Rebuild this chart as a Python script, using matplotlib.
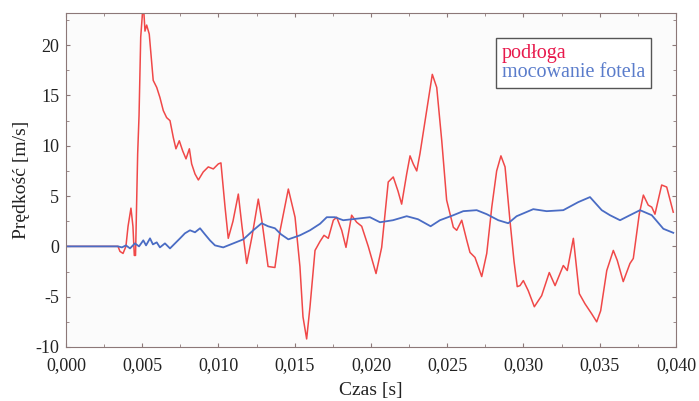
import matplotlib
matplotlib.use('Agg')
import matplotlib.pyplot as plt
from matplotlib.ticker import MultipleLocator, FuncFormatter
import numpy as np

plt.rcParams['font.family'] = ['Liberation Serif', 'DejaVu Serif']

# czas w ms
t_podloga = [0, 3.41, 3.54, 3.74, 3.93, 4.07, 4.26, 4.39, 4.48, 4.56, 4.70, 4.79, 4.90,
             5.03, 5.11, 5.18, 5.29, 5.46, 5.72, 5.95, 6.16, 6.38, 6.60, 6.82, 7.04,
             7.21, 7.43, 7.65, 7.87, 8.09, 8.24, 8.46, 8.68, 9.00, 9.33, 9.66, 9.99,
             10.16, 10.43, 10.64, 10.95, 11.30, 11.54, 11.85, 12.20, 12.61, 12.85,
             13.25, 13.70, 14.03, 14.58, 15.02, 15.34, 15.54, 15.78, 16.00, 16.33,
             16.66, 16.92, 17.20, 17.53, 17.75, 18.08, 18.36, 18.73, 19.06, 19.39,
             19.82, 20.33, 20.70, 21.13, 21.46, 21.77, 22.01, 22.34, 22.56, 22.77,
             23.00, 23.21, 23.65, 24.02, 24.31, 24.64, 24.96, 25.40, 25.62, 25.95,
             26.28, 26.49, 26.82, 27.26, 27.59, 27.92, 28.24, 28.52, 28.79, 29.11,
             29.38, 29.59, 29.77, 29.99, 30.31, 30.71, 31.19, 31.69, 32.07, 32.61,
             32.87, 33.27, 33.66, 34.03, 34.47, 34.80, 35.06, 35.46, 35.89, 36.15,
             36.54, 36.98, 37.20, 37.59, 37.86, 38.18, 38.41, 38.62, 39.06, 39.39,
             39.61, 39.82]
v_podloga = [0, 0, -0.5, -0.7, 0.0, 2.0, 3.8, 2.0, -0.9, -0.9, 9.2, 13.0, 20.8,
             23.5, 23.2, 21.4, 22.0, 21.1, 16.5, 15.8, 14.8, 13.5, 12.8, 12.5, 10.8,
             9.7, 10.5, 9.5, 8.7, 9.7, 8.2, 7.2, 6.6, 7.4, 7.9, 7.7, 8.2,
             8.3, 3.9, 0.8, 2.5, 5.2, 2.0, -1.7, 1.0, 4.7, 2.5,
             -2.0, -2.1, 1.5, 5.7, 2.9, -2.0, -7.0, -9.2, -6.0, -0.4,
             0.5, 1.1, 0.8, 2.6, 2.9, 1.6, -0.1, 3.1, 2.4, 2.0,
             0.0, -2.7, -0.1, 6.4, 6.9, 5.5, 4.2, 7.2, 9.0, 8.2,
             7.5, 9.2, 13.5, 17.1, 15.8, 10.5, 4.6, 1.9, 1.6, 2.6,
             0.6, -0.6, -1.1, -3.0, -0.7, 3.9, 7.5, 9.0, 7.9, 2.6,
             -1.5, -4.0, -3.9, -3.4, -4.4, -6.0, -4.9, -2.6, -3.9, -1.9,
             -2.4, 0.8, -4.7, -5.7, -6.7, -7.5, -6.4, -2.4, -0.4, -1.4,
             -3.5, -1.7, -1.2, 3.2, 5.1, 4.1, 3.9, 3.2, 6.1, 5.9,
             4.6, 3.4]

t_fotel = [0, 3.41, 3.67, 3.93, 4.20, 4.52, 4.79, 5.07, 5.25, 5.51, 5.70, 5.95, 6.16,
           6.49, 6.82, 7.15, 7.48, 7.80, 8.13, 8.46, 8.79, 9.11, 9.44, 9.77, 10.31,
           10.97, 11.63, 12.28, 12.83, 13.25, 13.70, 14.10, 14.58, 15.34, 16.00,
           16.66, 17.10, 17.64, 18.18, 19.06, 19.93, 20.59, 21.44, 22.34, 23.08,
           23.91, 24.52, 25.40, 26.05, 26.93, 27.59, 28.35, 29.00, 29.55, 30.64,
           31.52, 32.61, 33.59, 34.36, 35.13, 35.67, 36.33, 36.98, 37.64, 38.41,
           39.17, 39.82]
v_fotel = [0, 0, -0.1, 0.1, -0.2, 0.3, 0.0, 0.6, 0.1, 0.8, 0.2, 0.4, -0.1,
           0.3, -0.2, 0.3, 0.8, 1.3, 1.6, 1.4, 1.8, 1.2, 0.6, 0.1, -0.1,
           0.3, 0.7, 1.6, 2.3, 2.0, 1.8, 1.2, 0.7, 1.1, 1.6,
           2.25, 2.9, 2.9, 2.6, 2.75, 2.9, 2.4, 2.6, 3.0, 2.7,
           2.0, 2.6, 3.1, 3.5, 3.6, 3.2, 2.6, 2.3, 3.0, 3.7,
           3.5, 3.6, 4.4, 4.9, 3.6, 3.1, 2.6, 3.1, 3.6, 3.1,
           1.75, 1.35]

fig = plt.figure(figsize=(6.99, 4.01), dpi=100)
ax = fig.add_axes([0.0944, 0.1347, 0.8727, 0.8329])
ax.set_facecolor('#fbfbfb')

ax.plot(np.array(t_podloga) / 1000, v_podloga, color='#f04848', lw=1.1, label='podłoga')
ax.plot(np.array(t_fotel) / 1000, v_fotel, color='#4a6cc4', lw=1.3, label='mocowanie fotela')

ax.set_xlim(0, 0.040)
ax.set_ylim(-10, 23.2)
ax.xaxis.set_major_locator(MultipleLocator(0.005))
ax.xaxis.set_minor_locator(MultipleLocator(0.0025))
ax.yaxis.set_major_locator(MultipleLocator(5))
ax.yaxis.set_minor_locator(MultipleLocator(2.5))
ax.xaxis.set_major_formatter(FuncFormatter(lambda x, p: f'{x:.3f}'.replace('.', ',')))
ax.yaxis.set_major_formatter(FuncFormatter(lambda y, p: f'{y:.0f}'))

spine_c = '#8c7878'
for s in ax.spines.values():
    s.set_color(spine_c)
ax.tick_params(which='both', direction='in', top=True, right=True, color=spine_c,
               labelsize=13, labelcolor='#222222')
ax.tick_params(which='major', length=3)
ax.tick_params(which='minor', length=2)
ax.tick_params(axis='x', pad=7)
ax.tick_params(axis='y', pad=5)

ax.set_xlabel('Czas [s]', fontsize=14, color='#222222', labelpad=6)
ax.set_ylabel('Prędkość [m/s]', fontsize=14, color='#222222', labelpad=4)

leg = ax.legend(loc='upper right', bbox_to_anchor=(0.959, 0.925), borderaxespad=0,
                handlelength=0, handletextpad=0, fancybox=False, edgecolor='#555555',
                framealpha=1, fontsize=14.5, borderpad=0.3, labelspacing=0.0)
leg.get_frame().set_linewidth(1.0)
for h in leg.legend_handles:
    h.set_visible(False)
leg.get_texts()[0].set_color('#e8194c')
leg.get_texts()[1].set_color('#5a7ccb')

fig.savefig('out.png', dpi=100)
